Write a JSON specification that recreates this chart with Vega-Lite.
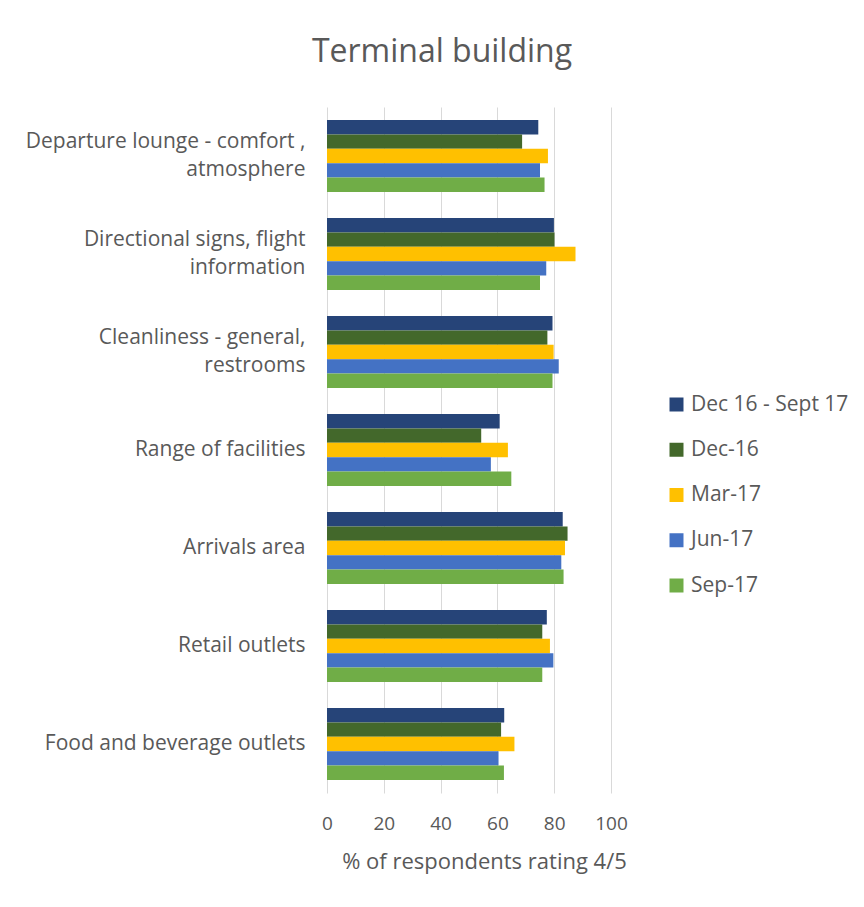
{
  "$schema": "https://vega.github.io/schema/vega-lite/v6.json",
  "autosize": {"type": "none"},
  "width": 284,
  "height": 686,
  "padding": {"left": 327, "top": 107, "right": 253, "bottom": 114},
  "background": "white",
  "title": {"text": "Terminal building", "fontSize": 32, "fontWeight": "normal", "color": "#595959", "anchor": "middle", "frame": "group", "dx": -27, "offset": 38},
  "config": {"font": "Open Sans", "view": {"stroke": null}},
  "data": {"values": [
    {"category": "Departure lounge - comfort , atmosphere", "period": "Dec 16 - Sept 17", "value": 74.4},
    {"category": "Departure lounge - comfort , atmosphere", "period": "Dec-16", "value": 68.7},
    {"category": "Departure lounge - comfort , atmosphere", "period": "Mar-17", "value": 77.8},
    {"category": "Departure lounge - comfort , atmosphere", "period": "Jun-17", "value": 75.0},
    {"category": "Departure lounge - comfort , atmosphere", "period": "Sep-17", "value": 76.6},
    {"category": "Directional signs, flight information", "period": "Dec 16 - Sept 17", "value": 79.9},
    {"category": "Directional signs, flight information", "period": "Dec-16", "value": 80.1},
    {"category": "Directional signs, flight information", "period": "Mar-17", "value": 87.5},
    {"category": "Directional signs, flight information", "period": "Jun-17", "value": 77.2},
    {"category": "Directional signs, flight information", "period": "Sep-17", "value": 75.0},
    {"category": "Cleanliness - general, restrooms", "period": "Dec 16 - Sept 17", "value": 79.4},
    {"category": "Cleanliness - general, restrooms", "period": "Dec-16", "value": 77.6},
    {"category": "Cleanliness - general, restrooms", "period": "Mar-17", "value": 79.8},
    {"category": "Cleanliness - general, restrooms", "period": "Jun-17", "value": 81.6},
    {"category": "Cleanliness - general, restrooms", "period": "Sep-17", "value": 79.4},
    {"category": "Range of facilities", "period": "Dec 16 - Sept 17", "value": 60.8},
    {"category": "Range of facilities", "period": "Dec-16", "value": 54.3},
    {"category": "Range of facilities", "period": "Mar-17", "value": 63.7},
    {"category": "Range of facilities", "period": "Jun-17", "value": 57.7},
    {"category": "Range of facilities", "period": "Sep-17", "value": 64.9},
    {"category": "Arrivals area", "period": "Dec 16 - Sept 17", "value": 83.0},
    {"category": "Arrivals area", "period": "Dec-16", "value": 84.7},
    {"category": "Arrivals area", "period": "Mar-17", "value": 83.8},
    {"category": "Arrivals area", "period": "Jun-17", "value": 82.5},
    {"category": "Arrivals area", "period": "Sep-17", "value": 83.3},
    {"category": "Retail outlets", "period": "Dec 16 - Sept 17", "value": 77.4},
    {"category": "Retail outlets", "period": "Dec-16", "value": 75.8},
    {"category": "Retail outlets", "period": "Mar-17", "value": 78.5},
    {"category": "Retail outlets", "period": "Jun-17", "value": 79.7},
    {"category": "Retail outlets", "period": "Sep-17", "value": 75.8},
    {"category": "Food and beverage outlets", "period": "Dec 16 - Sept 17", "value": 62.4},
    {"category": "Food and beverage outlets", "period": "Dec-16", "value": 61.3},
    {"category": "Food and beverage outlets", "period": "Mar-17", "value": 66.0},
    {"category": "Food and beverage outlets", "period": "Jun-17", "value": 60.4},
    {"category": "Food and beverage outlets", "period": "Sep-17", "value": 62.3}
  ]},
  "mark": {"type": "bar"},
  "encoding": {
    "y": {
      "field": "category", "type": "nominal",
      "sort": ["Departure lounge - comfort , atmosphere", "Directional signs, flight information", "Cleanliness - general, restrooms", "Range of facilities", "Arrivals area", "Retail outlets", "Food and beverage outlets"],
      "scale": {"paddingInner": 0.265, "paddingOuter": 0.1325},
      "axis": {
        "title": null, "domain": false, "ticks": false, "grid": false,
        "labelFontSize": 21, "labelColor": "#595959", "labelPadding": 22, "labelLineHeight": 28, "labelLimit": 400,
        "labelOffset": {"condition": {"test": "indexof(['Departure lounge - comfort , atmosphere', 'Directional signs, flight information', 'Cleanliness - general, restrooms'], datum.value) >= 0", "value": -14}, "value": 0},
        "labelExpr": "datum.value == 'Departure lounge - comfort , atmosphere' ? ['Departure lounge - comfort ,', 'atmosphere'] : datum.value == 'Directional signs, flight information' ? ['Directional signs, flight', 'information'] : datum.value == 'Cleanliness - general, restrooms' ? ['Cleanliness - general,', 'restrooms'] : datum.label"
      }
    },
    "yOffset": {
      "field": "period", "type": "nominal",
      "sort": ["Dec 16 - Sept 17", "Dec-16", "Mar-17", "Jun-17", "Sep-17"]
    },
    "x": {
      "field": "value", "type": "quantitative",
      "scale": {"domain": [0, 100], "nice": false},
      "axis": {
        "title": "% of respondents rating 4/5", "values": [0, 20, 40, 60, 80, 100],
        "grid": true, "gridColor": "#D9D9D9", "gridWidth": 1, "domain": false, "ticks": false,
        "labelFlush": false, "labelOverlap": false,
        "labelFontSize": 19, "labelColor": "#595959", "labelPadding": 21,
        "titleFontSize": 22, "titleColor": "#595959", "titleFontWeight": "normal", "titlePadding": 18, "titleX": 157
      }
    },
    "color": {
      "field": "period", "type": "nominal",
      "scale": {"domain": ["Dec 16 - Sept 17", "Dec-16", "Mar-17", "Jun-17", "Sep-17"], "range": ["#264478", "#43682B", "#FFC000", "#4472C4", "#70AD47"]},
      "legend": {"title": null, "orient": "none", "legendX": 339, "legendY": 287, "symbolType": "square", "symbolSize": 196, "symbolStrokeWidth": 0, "labelFontSize": 21, "labelColor": "#595959", "rowPadding": 23.25, "labelOffset": 4}
    }
  }
}
